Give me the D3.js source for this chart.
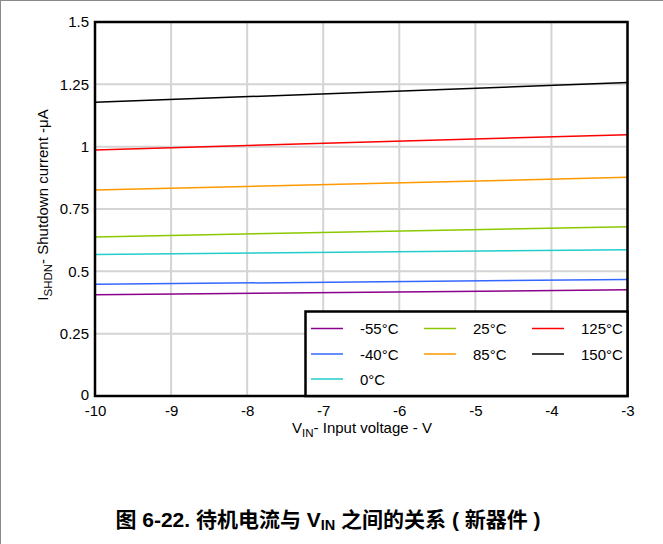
<!DOCTYPE html>
<html>
<head>
<meta charset="utf-8">
<script src="https://cdn.jsdelivr.net/npm/d3@7"></script>
<style>
  body { margin: 0; background: #fff; }
  svg { font-family: "Liberation Sans", Arial, sans-serif; }
</style>
</head>
<body>
<div class="canvas"></div>
<script>
// input voltage endpoints (V)
const vin = [-10, -3];
const temps = ["-55°C", "-40°C", "0°C", "25°C", "85°C", "125°C", "150°C"];
const colors = ["#8b008b", "#3366ff", "#22cccc", "#8cc800", "#ff9900", "#ff0000", "#000000"];
// shutdown current (uA) at vin[0], vin[1]
const i55 = [0.406, 0.426];
const i40 = [0.448, 0.467];
const i0 = [0.568, 0.587];
const i25 = [0.638, 0.679];
const i85 = [0.826, 0.877];
const i125 = [0.987, 1.048];
const i150 = [1.178, 1.257];
const series = [i55, i40, i0, i25, i85, i125, i150];

const xTicks = [-10, -9, -8, -7, -6, -5, -4, -3];
const yTicks = [0, 0.25, 0.5, 0.75, 1, 1.25, 1.5];

const W = 663, H = 544;
const pl = 95, pr = 627.5, pt = 22, pb = 396;
const fs = 15;

const x = d3.scaleLinear().domain([-10, -3]).range([pl, pr]);
const y = d3.scaleLinear().domain([0, 1.5]).range([pb, pt]);

const svg = d3.select(".canvas").append("svg").attr("width", W).attr("height", H);

// outer frame (top and left only)
svg.append("line").attr("x1", 0).attr("x2", W).attr("y1", 0.5).attr("y2", 0.5)
  .attr("stroke", "#8a8a8a").attr("stroke-width", 1);
svg.append("line").attr("x1", 0.5).attr("x2", 0.5).attr("y1", 0).attr("y2", H)
  .attr("stroke", "#8a8a8a").attr("stroke-width", 1);

// grid
svg.append("g").selectAll("line").data(xTicks).enter().append("line")
  .attr("x1", d => x(d)).attr("x2", d => x(d)).attr("y1", pt).attr("y2", pb)
  .attr("stroke", "#d4d4d4").attr("stroke-width", 2);
svg.append("g").selectAll("line").data(yTicks).enter().append("line")
  .attr("x1", pl).attr("x2", pr).attr("y1", d => y(d)).attr("y2", d => y(d))
  .attr("stroke", "#d4d4d4").attr("stroke-width", 2);

// series
const line = d3.line().x((d, i) => x(vin[i])).y(d => y(d));
svg.append("g").selectAll("path").data(series).enter().append("path")
  .attr("d", d => line(d))
  .attr("fill", "none")
  .attr("stroke", (d, i) => colors[i])
  .attr("stroke-width", 1.5);

// axes
const xAxis = d3.axisBottom(x).tickValues(xTicks).tickSize(0).tickPadding(9)
  .tickFormat(d => String(d));
svg.append("g").attr("transform", `translate(0,${pb})`).call(xAxis)
  .call(g => g.select(".domain").remove())
  .selectAll("text").attr("font-size", fs).attr("fill", "#000")
  .attr("font-family", "Liberation Sans, Arial, sans-serif");

const yAxis = d3.axisLeft(y).tickValues(yTicks).tickSize(0).tickPadding(6)
  .tickFormat(d => String(d));
svg.append("g").attr("transform", `translate(${pl},0)`).call(yAxis)
  .call(g => g.select(".domain").remove())
  .selectAll("text").attr("font-size", fs).attr("fill", "#000")
  .attr("dy", d => d === 0 ? "0.2em" : "0.32em")
  .attr("font-family", "Liberation Sans, Arial, sans-serif");

// plot frame
svg.append("rect").attr("x", pl).attr("y", pt)
  .attr("width", pr - pl).attr("height", pb - pt)
  .attr("fill", "none").attr("stroke", "#000").attr("stroke-width", 2.5);

// legend
const lg = svg.append("g");
lg.append("rect").attr("x", 305.5).attr("y", 311.5).attr("width", 322).attr("height", 84.5)
  .attr("fill", "#fff").attr("stroke", "#000").attr("stroke-width", 2.5);
const colX = [311, 424, 532];
const rowY = [328.5, 354, 379];
// [column, row] for each temperature
const slot = [[0, 0], [0, 1], [0, 2], [1, 0], [1, 1], [2, 0], [2, 1]];
temps.forEach((t, i) => {
  const [c, r] = slot[i];
  const item = lg.append("g");
  item.append("line").attr("x1", colX[c]).attr("x2", colX[c] + 32)
    .attr("y1", rowY[r]).attr("y2", rowY[r])
    .attr("stroke", colors[i]).attr("stroke-width", 1.5);
  item.append("text").attr("x", colX[c] + 49).attr("y", rowY[r] + 5.5)
    .attr("font-size", fs).text(t);
});

// axis titles
const xt = svg.append("text").attr("x", 362).attr("y", 433)
  .attr("text-anchor", "middle").attr("font-size", fs);
xt.append("tspan").text("V");
xt.append("tspan").attr("font-size", 11.5).attr("dy", 4).text("IN");
xt.append("tspan").attr("dy", -4).text("- Input voltage - V");

const yt = svg.append("text").attr("transform", "translate(48,205) rotate(-90)")
  .attr("text-anchor", "middle").attr("font-size", fs);
yt.append("tspan").text("I");
yt.append("tspan").attr("font-size", 11.5).attr("dy", 4).text("SHDN");
yt.append("tspan").attr("dy", -4).text("- Shutdown current -μA");

// caption
const cap = svg.append("text").attr("x", 328).attr("y", 527)
  .attr("text-anchor", "middle").attr("font-size", 21).attr("font-weight", "bold")
  .attr("font-family", "Liberation Sans, 'Noto Sans CJK SC', sans-serif");
cap.append("tspan").text("图 6-22. 待机电流与 V");
cap.append("tspan").attr("font-size", 14.5).attr("dy", 3).text("IN");
cap.append("tspan").attr("dy", -3).text(" 之间的关系 ( 新器件 )");
</script>
</body>
</html>
